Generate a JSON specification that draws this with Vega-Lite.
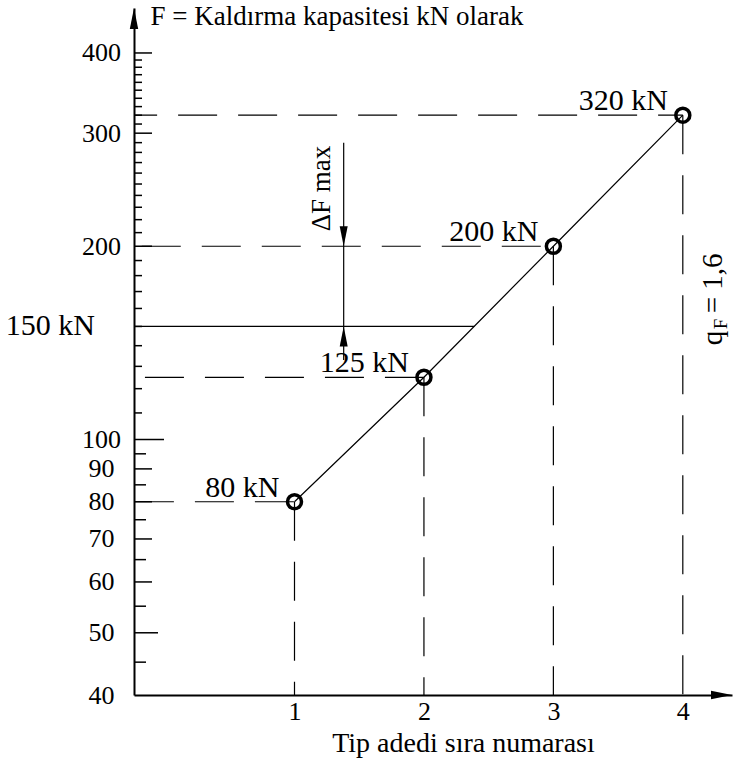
{
  "$schema": "https://vega.github.io/schema/vega-lite/v6.json",
  "width": 598,
  "height": 687,
  "autosize": "none",
  "padding": {"left": 134, "top": 8, "right": 19, "bottom": 74},
  "background": "white",
  "config": {
    "font": "Liberation Serif",
    "view": {"stroke": null},
    "style": {
      "guide-label": {"font": "Liberation Serif", "fill": "black"},
      "guide-title": {"font": "Liberation Serif", "fill": "black", "fontWeight": "normal"}
    },
    "text": {"font": "Liberation Serif", "fontSize": 26, "color": "black"},
    "axis": {
      "labelFont": "Liberation Serif", "titleFont": "Liberation Serif",
      "labelColor": "black", "titleColor": "black", "titleFontWeight": "normal",
      "labelFontSize": 26, "titleFontSize": 26, "grid": false, "ticks": false, "tickSize": 0,
      "domainColor": "black", "domainWidth": 2, "labelOverlap": false, "labelFlush": false
    }
  },
  "datasets": {
    "capacity": [
      {"n": 1, "F": 80, "label": "80 kN"},
      {"n": 2, "F": 125, "label": "125 kN"},
      {"n": 3, "F": 200, "label": "200 kN"},
      {"n": 4, "F": 320, "label": "320 kN"}
    ],
    "yticks": [
      {"F": 50, "kind": "fifty"},
      {"F": 100, "kind": "hundred"},
      {"F": 60, "kind": "major"}, {"F": 70, "kind": "major"}, {"F": 80, "kind": "major"}, {"F": 90, "kind": "major"},
      {"F": 200, "kind": "major"}, {"F": 300, "kind": "major"}, {"F": 400, "kind": "major"},
      {"F": 45, "kind": "minorLow"}, {"F": 55, "kind": "minorLow"}, {"F": 65, "kind": "minorLow"},
      {"F": 75, "kind": "minorLow"}, {"F": 85, "kind": "minorLow"}, {"F": 95, "kind": "minorLow"},
      {"F": 110, "kind": "minorHigh"}, {"F": 120, "kind": "minorHigh"}, {"F": 130, "kind": "minorHigh"},
      {"F": 140, "kind": "minorHigh"}, {"F": 150, "kind": "minorHigh"}, {"F": 160, "kind": "minorHigh"},
      {"F": 170, "kind": "minorHigh"}, {"F": 180, "kind": "minorHigh"}, {"F": 190, "kind": "minorHigh"},
      {"F": 210, "kind": "minorHigh"}, {"F": 220, "kind": "minorHigh"}, {"F": 230, "kind": "minorHigh"},
      {"F": 240, "kind": "minorHigh"}, {"F": 250, "kind": "minorHigh"}, {"F": 260, "kind": "minorHigh"},
      {"F": 270, "kind": "minorHigh"}, {"F": 280, "kind": "minorHigh"}, {"F": 290, "kind": "minorHigh"},
      {"F": 310, "kind": "minorHigh"}, {"F": 320, "kind": "minorHigh"}, {"F": 330, "kind": "minorHigh"},
      {"F": 340, "kind": "minorHigh"}, {"F": 350, "kind": "minorHigh"}, {"F": 360, "kind": "minorHigh"},
      {"F": 370, "kind": "minorHigh"}, {"F": 380, "kind": "minorHigh"}, {"F": 390, "kind": "minorHigh"}
    ],
    "limit": [{"F": 150, "n_end": 2.39, "label": "150 kN"}]
  },
  "layer": [
    {
      "data": {"name": "capacity"},
      "mark": {"type": "line", "color": "black", "strokeWidth": 1.2},
      "encoding": {
        "x": {
          "field": "n", "type": "quantitative",
          "scale": {"domain": [-0.24, 4.38], "nice": false, "zero": false},
          "axis": {
            "values": [1, 2, 3, 4], "format": "d", "labelPadding": 3, "labelBaseline": "top",
            "labelFont": "Liberation Serif",
            "title": "Tip adedi sıra numarası", "titleFont": "Liberation Serif", "titleFontSize": 28,
            "titleX": 329, "titleY": 56, "titleAlign": "center", "titleBaseline": "alphabetic"
          }
        },
        "y": {
          "field": "F", "type": "quantitative",
          "scale": {"type": "log", "domain": [40, 470], "nice": false},
          "axis": {
            "values": [40, 50, 60, 70, 80, 90, 100, 200, 300, 400],
            "labelFont": "Liberation Serif",
            "labelAlign": "center", "labelBaseline": "middle", "labelPadding": 33,
            "title": "F = Kaldırma kapasitesi kN olarak", "titleFont": "Liberation Serif", "titleFontSize": 27,
            "titleAngle": 0, "titleAlign": "left", "titleBaseline": "alphabetic", "titleX": 16, "titleY": 16
          }
        }
      }
    },
    {
      "data": {"name": "yticks"},
      "transform": [{"filter": "datum.kind === 'major'"}],
      "mark": {"type": "rule", "color": "black", "strokeWidth": 1.5, "x2Offset": 18},
      "encoding": {"y": {"field": "F", "type": "quantitative"}, "x": {"datum": -0.24, "type": "quantitative"}, "x2": {"datum": -0.24}}
    },
    {
      "data": {"name": "yticks"},
      "transform": [{"filter": "datum.kind === 'fifty'"}],
      "mark": {"type": "rule", "color": "black", "strokeWidth": 1.5, "x2Offset": 24},
      "encoding": {"y": {"field": "F", "type": "quantitative"}, "x": {"datum": -0.24, "type": "quantitative"}, "x2": {"datum": -0.24}}
    },
    {
      "data": {"name": "yticks"},
      "transform": [{"filter": "datum.kind === 'hundred'"}],
      "mark": {"type": "rule", "color": "black", "strokeWidth": 1.5, "x2Offset": 30},
      "encoding": {"y": {"field": "F", "type": "quantitative"}, "x": {"datum": -0.24, "type": "quantitative"}, "x2": {"datum": -0.24}}
    },
    {
      "data": {"name": "yticks"},
      "transform": [{"filter": "datum.kind === 'minorLow'"}],
      "mark": {"type": "rule", "color": "black", "strokeWidth": 1.5, "x2Offset": 12},
      "encoding": {"y": {"field": "F", "type": "quantitative"}, "x": {"datum": -0.24, "type": "quantitative"}, "x2": {"datum": -0.24}}
    },
    {
      "data": {"name": "yticks"},
      "transform": [{"filter": "datum.kind === 'minorHigh'"}],
      "mark": {"type": "rule", "color": "black", "strokeWidth": 1.5, "x2Offset": 8},
      "encoding": {"y": {"field": "F", "type": "quantitative"}, "x": {"datum": -0.24, "type": "quantitative"}, "x2": {"datum": -0.24}}
    },
    {
      "data": {"name": "capacity"},
      "transform": [{"filter": "datum.F === 320"}],
      "mark": {"type": "rule", "color": "black", "strokeWidth": 1.2, "strokeDash": [39, 21], "strokeDashOffset": 14.3},
      "encoding": {"x": {"field": "n", "type": "quantitative"}, "x2": {"datum": -0.24}, "y": {"field": "F", "type": "quantitative"}}
    },
    {
      "data": {"name": "capacity"},
      "transform": [{"filter": "datum.F === 200"}],
      "mark": {"type": "rule", "color": "black", "strokeWidth": 1.2, "strokeDash": [39, 21], "strokeDashOffset": 47.4},
      "encoding": {"x": {"field": "n", "type": "quantitative"}, "x2": {"datum": -0.24}, "y": {"field": "F", "type": "quantitative"}}
    },
    {
      "data": {"name": "capacity"},
      "transform": [{"filter": "datum.F === 125"}],
      "mark": {"type": "rule", "color": "black", "strokeWidth": 1.2, "strokeDash": [39, 21]},
      "encoding": {"x": {"field": "n", "type": "quantitative"}, "x2": {"datum": -0.24}, "y": {"field": "F", "type": "quantitative"}}
    },
    {
      "data": {"name": "capacity"},
      "transform": [{"filter": "datum.F === 80"}],
      "mark": {"type": "rule", "color": "black", "strokeWidth": 1.2, "strokeDash": [39, 21], "strokeDashOffset": 59.4},
      "encoding": {"x": {"field": "n", "type": "quantitative"}, "x2": {"datum": -0.24}, "y": {"field": "F", "type": "quantitative"}}
    },
    {
      "data": {"name": "capacity"},
      "mark": {"type": "rule", "color": "black", "strokeWidth": 1.2, "strokeDash": [39, 21]},
      "encoding": {"x": {"field": "n", "type": "quantitative"}, "y": {"field": "F", "type": "quantitative"}, "y2": {"datum": 40}}
    },
    {
      "data": {"name": "limit"},
      "mark": {"type": "rule", "color": "black", "strokeWidth": 1.2},
      "encoding": {"x": {"field": "n_end", "type": "quantitative"}, "x2": {"datum": -0.24}, "y": {"field": "F", "type": "quantitative"}}
    },
    {
      "data": {"name": "limit"},
      "mark": {"type": "text", "align": "right", "baseline": "middle", "dx": -39, "fontSize": 30},
      "encoding": {"x": {"datum": -0.24, "type": "quantitative"}, "y": {"field": "F", "type": "quantitative"}, "text": {"field": "label", "type": "nominal"}}
    },
    {
      "data": {"values": [{}]},
      "mark": {"type": "rule", "color": "black", "strokeWidth": 1.2},
      "encoding": {"x": {"datum": 1.38, "type": "quantitative"}, "y": {"datum": 290, "type": "quantitative"}, "y2": {"datum": 133}}
    },
    {
      "data": {"values": [{}]},
      "mark": {"type": "point", "shape": "M0,0L-0.4,-2L0.4,-2Z", "size": 400, "filled": true, "color": "black", "opacity": 1},
      "encoding": {"x": {"datum": 1.38, "type": "quantitative"}, "y": {"datum": 200, "type": "quantitative"}}
    },
    {
      "data": {"values": [{}]},
      "mark": {"type": "point", "shape": "M0,0L-0.4,2L0.4,2Z", "size": 400, "filled": true, "color": "black", "opacity": 1},
      "encoding": {"x": {"datum": 1.38, "type": "quantitative"}, "y": {"datum": 150, "type": "quantitative"}}
    },
    {
      "data": {"values": [{}]},
      "mark": {"type": "text", "angle": 270, "align": "center", "baseline": "alphabetic", "dy": -14, "fontSize": 27, "text": "ΔF max"},
      "encoding": {"x": {"datum": 1.38, "type": "quantitative"}, "y": {"datum": 246, "type": "quantitative"}}
    },
    {
      "data": {"values": [{}]},
      "mark": {"type": "point", "shape": "M0,0L-0.4,2L0.4,2Z", "size": 441, "filled": true, "color": "black", "opacity": 1},
      "encoding": {"x": {"datum": -0.24, "type": "quantitative"}, "y": {"datum": 470, "type": "quantitative"}}
    },
    {
      "data": {"values": [{}]},
      "mark": {"type": "point", "shape": "M0,0L-2,-0.4L-2,0.4Z", "size": 441, "filled": true, "color": "black", "opacity": 1},
      "encoding": {"x": {"datum": 4.38, "type": "quantitative"}, "y": {"datum": 40, "type": "quantitative"}}
    },
    {
      "data": {"name": "capacity"},
      "mark": {"type": "point", "shape": "circle", "size": 196, "filled": false, "stroke": "black", "strokeWidth": 3.5, "opacity": 1},
      "encoding": {"x": {"field": "n", "type": "quantitative"}, "y": {"field": "F", "type": "quantitative"}}
    },
    {
      "data": {"name": "capacity"},
      "mark": {"type": "text", "align": "right", "baseline": "alphabetic", "dx": -15, "dy": -5, "fontSize": 30},
      "encoding": {"x": {"field": "n", "type": "quantitative"}, "y": {"field": "F", "type": "quantitative"}, "text": {"field": "label", "type": "nominal"}}
    },
    {
      "data": {"values": [{}]},
      "mark": {"type": "text", "angle": 270, "align": "left", "baseline": "alphabetic", "dx": 32, "dy": 39, "fontSize": 29, "text": "q"},
      "encoding": {"x": {"datum": 4, "type": "quantitative"}, "y": {"datum": 125, "type": "quantitative"}}
    },
    {
      "data": {"values": [{}]},
      "mark": {"type": "text", "angle": 270, "align": "left", "baseline": "alphabetic", "dx": 48, "dy": 44, "fontSize": 19, "text": "F"},
      "encoding": {"x": {"datum": 4, "type": "quantitative"}, "y": {"datum": 125, "type": "quantitative"}}
    },
    {
      "data": {"values": [{}]},
      "mark": {"type": "text", "angle": 270, "align": "left", "baseline": "alphabetic", "dx": 64, "dy": 39, "fontSize": 29, "text": "= 1,6"},
      "encoding": {"x": {"datum": 4, "type": "quantitative"}, "y": {"datum": 125, "type": "quantitative"}}
    }
  ]
}
